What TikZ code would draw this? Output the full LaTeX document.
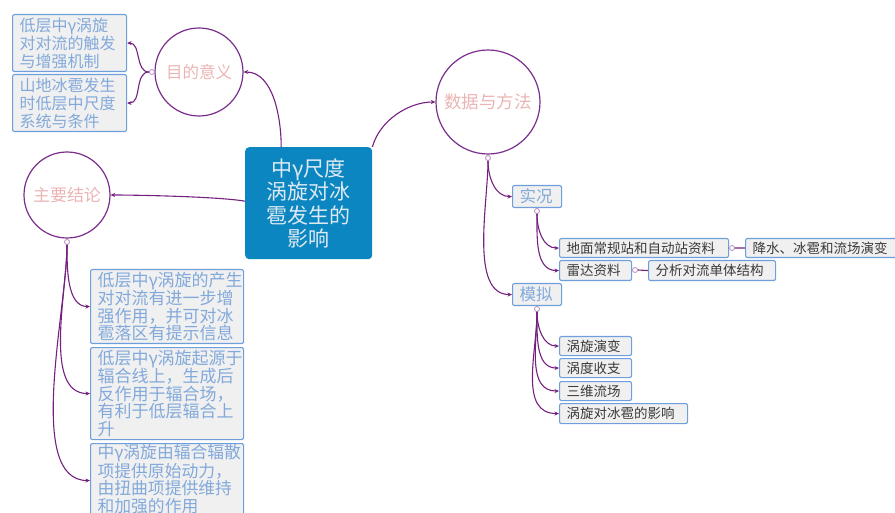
\documentclass[tikz,border=0pt]{standalone}
\usepackage{fontspec}
\setmainfont{Noto Sans CJK SC}
\usetikzlibrary{arrows.meta}
\definecolor{conn}{HTML}{74207F}
\definecolor{ring}{HTML}{7B2D8E}
\definecolor{dotc}{HTML}{B58CBF}
\definecolor{boxb}{HTML}{6E9EDB}
\definecolor{boxf}{HTML}{F0F0F0}
\definecolor{boxt}{HTML}{82A9DB}
\definecolor{pinkt}{HTML}{EBB4B4}
\definecolor{cfill}{HTML}{0B86C0}
\definecolor{ctext}{HTML}{DDEAF3}
\definecolor{dark}{HTML}{3A3A3A}
\begin{document}
\begin{tikzpicture}[x=1pt,y=-1pt,
  ringnode/.style={circle,draw=ring,line width=1.2pt,inner sep=0pt,text=pinkt},
  pbox/.style={draw=boxb,fill=boxf,line width=1.1pt,rounded corners=2pt,inner xsep=7pt,inner ysep=0pt,anchor=north west,align=left,text=boxt},
  leaf/.style={pbox,text=dark,font=\fontsize{13.5}{15}\selectfont},
  dotn/.style={circle,draw=dotc,fill=white,line width=0.8pt,minimum size=5pt,inner sep=0pt},
  arr/.style={draw=conn,line width=1.1pt,-{Stealth[length=4.5pt,width=4pt]}},
  plain/.style={draw=conn,line width=1.1pt}
]
\useasboundingbox (0,0) rectangle (895,513);

% central
\node[fill=cfill,rounded corners=4pt,anchor=north west,minimum width=127pt,minimum height=112pt,inner sep=0pt,align=center,text=ctext,font=\fontsize{21}{23.5}\selectfont] (c) at (245,147) {中γ尺度\\涡旋对冰\\雹发生的\\影响};

% rings
\node[ringnode,minimum size=88pt,font=\fontsize{16.5}{18}\selectfont] (m) at (199,72) {目的意义};
\node[ringnode,minimum size=104pt,font=\fontsize{17.5}{19}\selectfont] (d) at (488,102) {数据与方法};
\node[ringnode,minimum size=86pt,font=\fontsize{17}{19}\selectfont] (z) at (67,195) {主要结论};

% top-left boxes
\node[pbox,minimum height=57pt,text width=100pt,font=\fontsize{16}{18}\selectfont] (b1) at (12,14) {低层中γ涡旋\\对对流的触发\\与增强机制};
\node[pbox,minimum height=57pt,text width=100pt,font=\fontsize{16}{18}\selectfont] (b2) at (12,74) {山地冰雹发生\\时低层中尺度\\系统与条件};

% bottom-left boxes
\node[pbox,minimum height=74pt,text width=139pt,font=\fontsize{17}{17.6}\selectfont] (ba) at (90,269) {低层中γ涡旋的产生\\对对流有进一步增\\强作用，并可对冰\\雹落区有提示信息};
\node[pbox,minimum height=92pt,text width=139pt,font=\fontsize{17}{17.8}\selectfont] (bb) at (90,347) {低层中γ涡旋起源于\\辐合线上，生成后\\反作用于辐合场，\\有利于低层辐合上\\升};
\node[pbox,minimum height=71pt,text width=139pt,font=\fontsize{16.8}{17.4}\selectfont] (bc) at (90,443) {中γ涡旋由辐合辐散\\项提供原始动力，\\由扭曲项提供维持\\和加强的作用};
\coordinate (bcw) at ([yshift=-1.5pt]bc.west);

% right side
\node[pbox,minimum height=22pt,text width=35pt,inner xsep=7pt,font=\fontsize{16.5}{18}\selectfont] (sk) at (512,185) {实况};
\node[pbox,minimum height=22pt,text width=35pt,inner xsep=7pt,font=\fontsize{16.5}{18}\selectfont] (mn) at (512,283) {模拟};

\node[leaf,minimum height=19pt,text width=155pt] (r1) at (559,238) {地面常规站和自动站资料};
\node[leaf,minimum height=20pt,text width=58pt] (r2) at (559,260) {雷达资料};
\node[leaf,minimum height=19pt,text width=141pt] (r3) at (745,238) {降水、冰雹和流场演变};
\node[leaf,minimum height=20pt,text width=113pt] (r4) at (648,260) {分析对流单体结构};

\node[leaf,minimum height=19pt,text width=58pt] (s1) at (559,336) {涡旋演变};
\node[leaf,minimum height=19pt,text width=58pt] (s2) at (559,358) {涡度收支};
\node[leaf,minimum height=19pt,text width=58pt] (s3) at (559,381) {三维流场};
\node[leaf,minimum height=20pt,text width=114pt] (s4) at (559,403) {涡旋对冰雹的影响};

% dots
\node[dotn] (dm) at (152,72) {};
\node[dotn] (dd) at (488,158) {};
\node[dotn] (dz) at (67,242) {};
\node[dotn] (dsk) at (537,211) {};
\node[dotn] (dmn) at (537,309) {};
\node[dotn] (dr1) at (732,248) {};
\node[dotn] (dr2) at (635,270) {};

% connectors from central
\coordinate (ct1) at ([xshift=-27.5pt]c.north);
\draw[arr] (ct1) to[out=90,in=0,looseness=0.9] (m.east);
\draw[arr] (c.north east) to[out=75,in=180,looseness=0.9] (d.west);
\coordinate (cw) at ([yshift=2pt]c.west);
\draw[arr] (cw) to[out=170,in=0,looseness=0.5] (z.east);

% 目的意义 children
\draw[arr] (dm.west) to[out=180,in=0] (b1.east);
\draw[arr] (dm.west) to[out=180,in=0] (b2.east);

% 主要结论 children
\draw[arr] (dz.south) to[out=270,in=180,looseness=0.9] (ba.west);
\draw[arr] (dz.south) to[out=270,in=180,looseness=0.8] (bb.west);
\draw[arr] (dz.south) to[out=270,in=180,looseness=0.7] (bcw);

% 数据与方法 children
\draw[arr] (dd.south) to[out=270,in=180] (sk.west);
\draw[arr] (dd.south) to[out=270,in=180,looseness=0.8] (mn.west);

% 实况 children
\draw[arr] (dsk.south) to[out=270,in=180] (r1.west);
\draw[arr] (dsk.south) to[out=270,in=180] (r2.west);
\draw[plain] (dr1.east) -- (r3.west);
\draw[plain] (dr2.east) -- (r4.west);

% 模拟 children
\draw[arr] (dmn.south) to[out=270,in=180] (s1.west);
\draw[arr] (dmn.south) to[out=270,in=180] (s2.west);
\draw[arr] (dmn.south) to[out=270,in=180] (s3.west);
\draw[arr] (dmn.south) to[out=270,in=180] (s4.west);
\end{tikzpicture}
\end{document}
